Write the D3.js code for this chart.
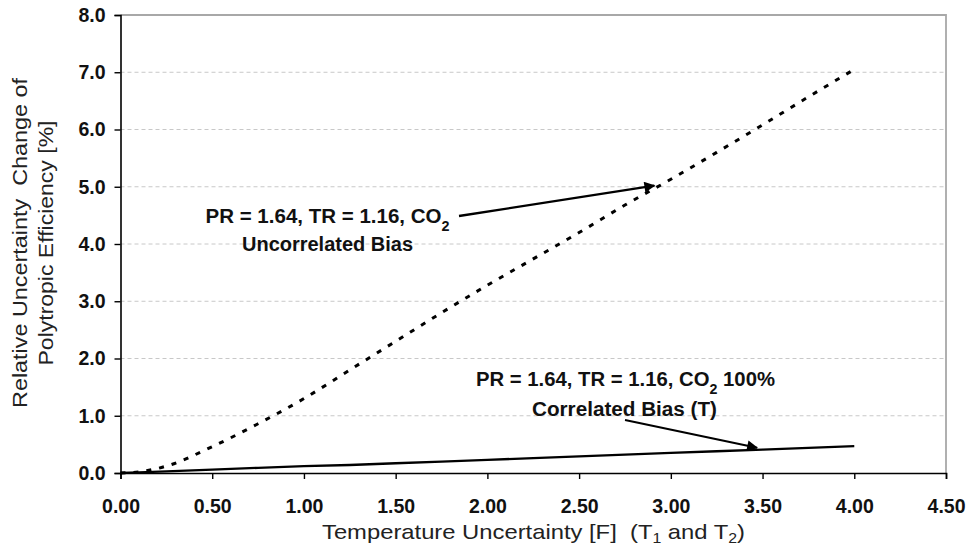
<!DOCTYPE html>
<html>
<head>
<meta charset="utf-8">
<script src="https://cdn.jsdelivr.net/npm/d3@7"></script>
<style>
  body { margin: 0; background: #fff; }
  svg text { font-family: "Liberation Sans", Arial, sans-serif; white-space: pre; }
</style>
</head>
<body>
<div class="container"></div>
<script>
// temperature uncertainty [F]
const tempX = [0, 0.1, 0.25, 0.5, 0.75, 1.0, 1.25, 1.5, 1.75, 2.0, 2.25, 2.5, 2.75, 3.0, 3.25, 3.5, 3.75, 4.0]
// uncorrelated bias, dashed curve
const uncorrelated = [0, 0.02, 0.12, 0.46, 0.86, 1.3, 1.8, 2.3, 2.8, 3.28, 3.74, 4.2, 4.68, 5.13, 5.6, 6.08, 6.57, 7.05]
// 100% correlated bias, solid line
const correlated = [0, 0.01, 0.03, 0.06, 0.09, 0.12, 0.14, 0.17, 0.2, 0.23, 0.26, 0.29, 0.32, 0.35, 0.38, 0.41, 0.44, 0.47]

const xTicks = [0, 0.5, 1, 1.5, 2, 2.5, 3, 3.5, 4, 4.5]
const yTicks = [0, 1, 2, 3, 4, 5, 6, 7, 8]

const W = 967, H = 550
const pLeft = 120.5, pRight = 946, pTop = 15, pBottom = 473

const svg = d3.select(".container").append("svg")
  .attr("width", W).attr("height", H)

const x = d3.scaleLinear().domain([0, 4.5]).range([pLeft, pRight])
const y = d3.scaleLinear().domain([0, 8]).range([pBottom, pTop])

// gridlines
svg.append("g").selectAll("line").data(yTicks.slice(1, -1)).enter()
  .append("line")
  .attr("x1", pLeft).attr("x2", pRight)
  .attr("y1", d => y(d)).attr("y2", d => y(d))
  .attr("stroke", "#c8c8c8").attr("stroke-width", 1)
  .attr("stroke-dasharray", "4,3")

// frame top/right
svg.append("path")
  .attr("d", `M${pLeft},${pTop}H${pRight}V${pBottom}`)
  .attr("fill", "none").attr("stroke", "#a8a8a8").attr("stroke-width", 1.8)

// axes
const yAxis = svg.append("g").attr("transform", `translate(${pLeft},0)`)
  .call(d3.axisLeft(y).tickValues(yTicks).tickFormat(d3.format(".1f")).tickSize(6).tickPadding(9))
const xAxis = svg.append("g").attr("transform", `translate(0,${pBottom})`)
  .call(d3.axisBottom(x).tickValues(xTicks).tickFormat(d3.format(".2f")).tickSize(6).tickPadding(20))

;[xAxis, yAxis].forEach(a => {
  a.select(".domain").attr("stroke", "#000").attr("stroke-width", 1.6)
  a.selectAll(".tick line").attr("stroke", "#000").attr("stroke-width", 1.4)
  a.selectAll(".tick text").attr("fill", "#111")
    .style("font-size", "19.5px").style("font-weight", "bold")
    .style("font-family", "Liberation Sans, Arial, sans-serif")
})

// series
svg.append("path").datum(uncorrelated)
  .attr("d", d3.line().x((d, i) => x(tempX[i])).y(d => y(d)).curve(d3.curveMonotoneX))
  .attr("fill", "none").attr("stroke", "#000").attr("stroke-width", 3)
  .attr("stroke-dasharray", "5,8")

svg.append("path").datum(correlated)
  .attr("d", d3.line().x((d, i) => x(tempX[i])).y(d => y(d)))
  .attr("fill", "none").attr("stroke", "#000").attr("stroke-width", 2.3)

// arrows
svg.append("defs").append("marker").attr("id", "arr")
  .attr("viewBox", "0 0 10 10").attr("refX", 9).attr("refY", 5)
  .attr("markerWidth", 15).attr("markerHeight", 11).attr("orient", "auto")
  .attr("markerUnits", "userSpaceOnUse")
  .append("path").attr("d", "M0,0L10,5L0,10Z").attr("fill", "#000")

svg.append("line")
  .attr("x1", 459).attr("y1", 216).attr("x2", x(2.91)).attr("y2", y(5.02))
  .attr("stroke", "#000").attr("stroke-width", 2.3).attr("marker-end", "url(#arr)")

svg.append("line")
  .attr("x1", 625).attr("y1", 420).attr("x2", x(3.47)).attr("y2", y(0.44))
  .attr("stroke", "#000").attr("stroke-width", 2).attr("marker-end", "url(#arr)")

// annotation texts
const note = (tx, ty, len, parts) => {
  const t = svg.append("text").attr("x", tx).attr("y", ty)
    .attr("text-anchor", "middle").attr("fill", "#111")
    .style("font-size", "20px").style("font-weight", "bold")
    .attr("textLength", len).attr("lengthAdjust", "spacingAndGlyphs")
  parts.forEach(p => {
    const s = t.append("tspan").text(p[0])
    if (p[1]) s.attr("baseline-shift", "sub").style("font-size", "14px")
  })
}
note(327.5, 223, 244, [["PR = 1.64, TR = 1.16, CO"], ["2", true]])
note(327.5, 251, 171, [["Uncorrelated Bias"]])
note(625.5, 386, 299, [["PR = 1.64, TR = 1.16, CO"], ["2", true], [" 100%"]])
note(624.5, 416, 185, [["Correlated Bias (T)"]])

// axis titles
const xt = svg.append("text").attr("x", 533.5).attr("y", 539)
  .attr("text-anchor", "middle").attr("fill", "#222").style("font-size", "21px")
  .attr("textLength", 423).attr("lengthAdjust", "spacingAndGlyphs")
xt.append("tspan").text("Temperature Uncertainty [F]  (T")
xt.append("tspan").text("1").attr("dy", 4).style("font-size", "14px")
xt.append("tspan").text(" and T").attr("dy", -4)
xt.append("tspan").text("2").attr("dy", 4).style("font-size", "14px")
xt.append("tspan").text(")").attr("dy", -4)

svg.append("text").attr("transform", "translate(27,243) rotate(-90)")
  .attr("text-anchor", "middle").attr("fill", "#222").style("font-size", "19.5px")
  .attr("textLength", 330).attr("lengthAdjust", "spacingAndGlyphs")
  .text("Relative Uncertainty  Change of")
svg.append("text").attr("transform", "translate(53,243) rotate(-90)")
  .attr("text-anchor", "middle").attr("fill", "#222").style("font-size", "19.5px")
  .attr("textLength", 245).attr("lengthAdjust", "spacingAndGlyphs")
  .text("Polytropic Efficiency [%]")
</script>
</body>
</html>
